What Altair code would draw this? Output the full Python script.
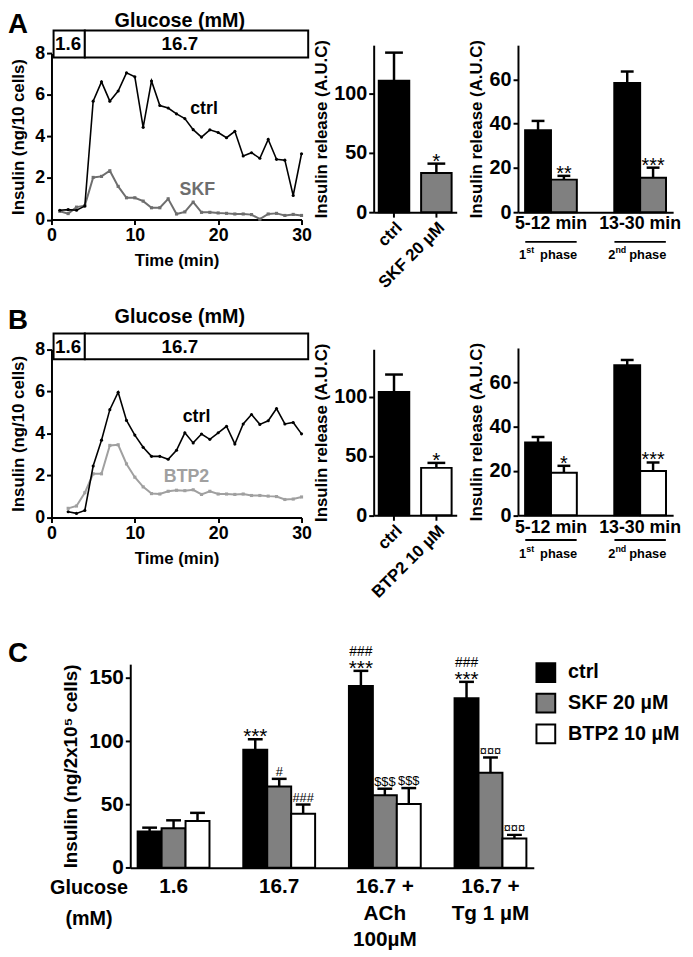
import altair as alt
import pandas as pd

FONT = "Liberation Sans"
W, H = 685, 949

# ---------------- data: time courses ----------------
time_a = list(range(1, 31))
ctrl_a = [0.45, 0.48, 0.45, 0.65, 5.70, 6.63, 5.70, 6.19, 7.06, 6.87,
          4.44, 6.67, 5.49, 5.37, 5.09, 4.86, 4.33, 3.97, 4.32, 4.19,
          3.94, 4.25, 3.06, 3.22, 2.95, 3.86, 2.90, 2.86, 1.16, 3.17]
skf_a = [0.40, 0.29, 0.60, 0.67, 2.03, 2.08, 2.35, 1.60, 1.05, 1.05,
         0.89, 0.57, 0.57, 1.00, 0.27, 0.37, 0.84, 0.35, 0.35, 0.32,
         0.30, 0.27, 0.27, 0.24, 0.02, 0.27, 0.30, 0.20, 0.25, 0.20]
time_b = list(range(2, 31))
ctrl_b = [0.28, 0.20, 0.34, 2.45, 3.68, 5.13, 5.96, 4.62, 3.92, 3.34,
          2.91, 2.91, 2.77, 3.20, 4.03, 3.55, 3.97, 3.72, 4.03, 4.34,
          3.50, 4.45, 4.90, 4.43, 4.60, 5.18, 4.45, 4.52, 3.98]
btp2_b = [0.44, 0.55, 1.18, 2.08, 2.08, 3.43, 3.46, 2.55, 1.92, 1.46,
          1.14, 1.12, 1.25, 1.30, 1.28, 1.32, 1.10, 1.25, 1.12, 1.12,
          1.10, 1.12, 1.05, 1.05, 1.02, 1.00, 0.86, 0.88, 0.98]

glucose_labels = ["1.6", "16.7"]
glucose_start = [0.25, 4.0]
glucose_end = [4.0, 30.8]
glucose_text_t = [2.0, 15.4]

# ---------------- data: AUC bars ----------------
auc_a_cats = ["ctrl", "SKF 20 µM"]
auc_a_vals = [111, 33]
auc_a_tops = [134.7, 41]
auc_a_sig = ["", "*"]

auc_b_cats = ["ctrl", "BTP2 10 µM"]
auc_b_vals = [104, 40]
auc_b_tops = [118.7, 44.2]
auc_b_sig = ["", "*"]

phase_cats = ["5-12 min", "13-30 min"]
phase_a_ctrl = [37.0, 58.3]
phase_a_ctrl_top = [41.2, 63.5]
phase_a_skf = [14.7, 15.6]
phase_a_skf_top = [16.4, 20.1]
phase_a_sig = ["**", "***"]

phase_b_ctrl = [32.8, 67.6]
phase_b_ctrl_top = [35.3, 70.0]
phase_b_btp2 = [19.2, 20.0]
phase_b_btp2_top = [22.3, 23.8]
phase_b_sig = ["*", "***"]

# ---------------- data: panel C ----------------
c_groups = ["1.6", "16.7", "16.7 +|ACh|100µM", "16.7 +|Tg 1 µM"]
c_series = ["ctrl", "SKF 20 µM", "BTP2 10 µM"]
c_ctrl = [28.6, 93.4, 143.8, 134.0]
c_ctrl_top = [31.7, 101.6, 155.7, 147.0]
c_skf = [31.2, 64.3, 57.3, 75.2]
c_skf_top = [37.5, 70.3, 62.5, 87.2]
c_btp2 = [37.0, 42.7, 50.5, 23.1]
c_btp2_top = [43.4, 50.0, 63.0, 26.0]
c_ctrl_star = ["", "***", "***", "***"]
c_ctrl_hash = ["", "", "###", "###"]
c_skf_sig = ["", "#", "$$$", "¤¤¤"]
c_btp2_sig = ["", "###", "$$$", "¤¤¤"]

GREY = "#808080"
SKF_LINE = "#6e6e6e"
BTP_LINE = "#a0a0a0"


def letter_mark(letter, y):
    return alt.Chart(pd.DataFrame({"lab": [letter]})).mark_text(
        align="left", baseline="alphabetic", fontSize=28, fontWeight="bold", font=FONT
    ).encode(x=alt.value(0), y=alt.value(y), text="lab:N")


def line_panel(times, ctrl, other, other_name, other_color, y_zero, y_eight,
               box_lo, box_hi, box_text_v, gluc_v, ctrl_lab, other_lab, letter, letter_y):
    xscale = alt.Scale(domain=[0, 30], range=[44, 297], nice=False, zero=False)
    yscale = alt.Scale(domain=[0, 8], range=[y_zero, y_eight], nice=False)
    xaxis = alt.Axis(orient="bottom", offset=y_zero - H, values=[0, 10, 20, 30],
                     title="Time (min)", labelFontSize=18, titleFontSize=17,
                     titlePadding=8, labelFlush=False, labelAngle=0)
    yaxis = alt.Axis(orient="left", offset=-44, values=[0, 2, 4, 6, 8],
                     title="Insulin (ng/10 cells)", labelFontSize=18, titleFontSize=17,
                     titlePadding=7)

    def X(f):
        return alt.X(f, type="quantitative", scale=xscale, axis=xaxis)

    def Y(f):
        return alt.Y(f, type="quantitative", scale=yscale, axis=yaxis)

    df = pd.DataFrame({"t": times, "ctrl": ctrl, "other": other})
    df_box = pd.DataFrame({"x0": glucose_start, "x1": glucose_end,
                           "y0": [box_lo] * 2, "y1": [box_hi] * 2,
                           "lab": glucose_labels, "lx": glucose_text_t,
                           "ly": [box_text_v] * 2})
    df_title = pd.DataFrame({"t": [15.4], "v": [gluc_v], "lab": ["Glucose (mM)"]})
    df_lab = pd.DataFrame({"t": [ctrl_lab[0], other_lab[0]],
                           "v": [ctrl_lab[1], other_lab[1]],
                           "lab": ["ctrl", other_name],
                           "col": ["black", other_color]})

    box = alt.Chart(df_box).mark_rect(fill="white", stroke="black", strokeWidth=2).encode(
        x=X("x0"), x2="x1", y=Y("y0"), y2="y1")
    box_txt = alt.Chart(df_box).mark_text(fontSize=19, fontWeight="bold", font=FONT).encode(
        x=X("lx"), y=Y("ly"), text="lab:N")
    title = alt.Chart(df_title).mark_text(fontSize=20, fontWeight="bold", font=FONT).encode(
        x=X("t"), y=Y("v"), text="lab:N")
    l1 = alt.Chart(df).mark_line(color="black", strokeWidth=1.6).encode(x=X("t"), y=Y("ctrl"))
    p1 = alt.Chart(df).mark_point(filled=True, size=10, color="black", opacity=1).encode(
        x=X("t"), y=Y("ctrl"))
    l2 = alt.Chart(df).mark_line(color=other_color, strokeWidth=2).encode(x=X("t"), y=Y("other"))
    p2 = alt.Chart(df).mark_point(filled=True, size=10, shape="square", color=other_color,
                                  opacity=1).encode(x=X("t"), y=Y("other"))
    labs = alt.Chart(df_lab).mark_text(fontSize=18, fontWeight="bold", font=FONT).encode(
        x=X("t"), y=Y("v"), text="lab:N", color=alt.Color("col:N", scale=None))
    return alt.layer(l2, p2, l1, p1, box, box_txt, title, labs, letter_mark(letter, letter_y))


def auc_total(cats, vals, tops, sig, colors, y_zero, y_max, y_top):
    df = pd.DataFrame({"cat": cats, "val": vals, "top": tops, "sig": sig, "col": colors})
    xscale = alt.Scale(domain=cats, range=[370, 454], paddingInner=0.28, paddingOuter=0.12)
    yscale = alt.Scale(domain=[0, y_max], range=[y_zero, y_top], nice=False)
    xaxis = alt.Axis(orient="bottom", offset=y_zero - H, title=None, labelAngle=-45,
                     labelFontSize=17)
    yaxis = alt.Axis(orient="left", offset=-370, values=[0, 50, 100],
                     title="Insulin release (A.U.C)", labelFontSize=20, titleFontSize=17,
                     titlePadding=3)
    X = alt.X("cat:N", scale=xscale, axis=xaxis)

    def Y(f):
        return alt.Y(f, type="quantitative", scale=yscale, axis=yaxis)

    bars = alt.Chart(df).mark_bar(stroke="black", strokeWidth=2).encode(
        x=X, y=Y("val"), fill=alt.Fill("col:N", scale=None))
    err = alt.Chart(df).mark_rule(strokeWidth=2.5, color="black").encode(x=X, y=Y("val"), y2="top")
    cap = alt.Chart(df).mark_tick(size=18, thickness=2.5, color="black", opacity=1).encode(
        x=X, y=Y("top"))
    star = alt.Chart(df).mark_text(fontSize=21, dy=4, baseline="alphabetic", font=FONT).encode(
        x=X, y=Y("top"), text="sig:N")
    return alt.layer(err, cap, bars, star)


def auc_phase(ctrl_v, ctrl_t, oth_v, oth_t, oth_col, sig, y_zero, y_top, under_v, phase_v):
    per, ser, val, top, col, sg = [], [], [], [], [], []
    for i, p in enumerate(phase_cats):
        per += [p, p]
        ser += ["ctrl", "drug"]
        val += [ctrl_v[i], oth_v[i]]
        top += [ctrl_t[i], oth_t[i]]
        col += ["black", oth_col]
        sg += ["", sig[i]]
    df = pd.DataFrame({"per": per, "ser": ser, "val": val, "top": top, "col": col, "sig": sg})
    xscale = alt.Scale(domain=phase_cats, range=[516, 673], paddingInner=0.42, paddingOuter=0.08)
    oscale = alt.Scale(domain=["ctrl", "drug"], paddingInner=0, paddingOuter=0)
    yscale = alt.Scale(domain=[0, 75.4], range=[y_zero, y_top], nice=False)
    xaxis = alt.Axis(orient="bottom", offset=y_zero - H, title=None, ticks=False,
                     labelFontSize=18, labelPadding=3, labelAngle=0, labelBaseline="top")
    yaxis = alt.Axis(orient="left", offset=-516, values=[0, 20, 40, 60],
                     title="Insulin release (A.U.C)", labelFontSize=20, titleFontSize=17,
                     titlePadding=4)
    X = alt.X("per:N", scale=xscale, axis=xaxis)
    XO = alt.XOffset("ser:N", scale=oscale)

    def Y(f):
        return alt.Y(f, type="quantitative", scale=yscale, axis=yaxis)

    bars = alt.Chart(df).mark_bar(stroke="black", strokeWidth=2).encode(
        x=X, xOffset=XO, y=Y("val"), fill=alt.Fill("col:N", scale=None))
    err = alt.Chart(df).mark_rule(strokeWidth=2.5, color="black").encode(
        x=X, xOffset=XO, y=Y("val"), y2="top")
    cap = alt.Chart(df).mark_tick(size=13, thickness=2.5, color="black", opacity=1).encode(
        x=X, xOffset=XO, y=Y("top"))
    star = alt.Chart(df).mark_text(fontSize=20, dy=4, baseline="alphabetic", font=FONT).encode(
        x=X, xOffset=XO, y=Y("top"), text="sig:N")

    df_ph = pd.DataFrame({"per": phase_cats, "num": ["1", "2"], "sup": ["st", "nd"],
                          "word": ["phase", "phase"], "uy": [under_v] * 2, "py": [phase_v] * 2})
    under = alt.Chart(df_ph).mark_tick(size=52, thickness=2, color="black", opacity=1).encode(
        x=X, y=Y("uy"))
    num = alt.Chart(df_ph).mark_text(align="right", dx=-25, fontSize=13, fontWeight="bold",
                                     font=FONT).encode(x=X, y=Y("py"), text="num:N")
    sup = alt.Chart(df_ph).mark_text(align="left", dx=-25, dy=-5, fontSize=9, fontWeight="bold",
                                     font=FONT).encode(x=X, y=Y("py"), text="sup:N")
    word = alt.Chart(df_ph).mark_text(align="left", dx=-11, fontSize=13, fontWeight="bold",
                                      font=FONT).encode(x=X, y=Y("py"), text="word:N")
    return alt.layer(err, cap, bars, star, under, num, sup, word)


def panel_c():
    grp, ser, val, top = [], [], [], []
    for i, g in enumerate(c_groups):
        grp += [g, g, g]
        ser += c_series
        val += [c_ctrl[i], c_skf[i], c_btp2[i]]
        top += [c_ctrl_top[i], c_skf_top[i], c_btp2_top[i]]
    df = pd.DataFrame({"grp": grp, "ser": ser, "val": val, "top": top})
    df_star = pd.DataFrame({"grp": c_groups, "ser": ["ctrl"] * 4, "top": c_ctrl_top,
                            "s": c_ctrl_star})
    df_hash = pd.DataFrame({"grp": c_groups, "ser": ["ctrl"] * 4, "top": c_ctrl_top,
                            "s": c_ctrl_hash})
    df_sym = pd.DataFrame({"grp": c_groups * 2, "ser": ["SKF 20 µM"] * 4 + ["BTP2 10 µM"] * 4,
                           "top": c_skf_top + c_btp2_top, "s": c_skf_sig + c_btp2_sig})

    y_zero, y_top = 864.3, 658.3
    xscale = alt.Scale(domain=c_groups, range=[123.7, 532], paddingInner=0.32, paddingOuter=0.07)
    oscale = alt.Scale(domain=c_series, paddingInner=0, paddingOuter=0)
    yscale = alt.Scale(domain=[0, 161], range=[y_zero, y_top], nice=False)
    xaxis = alt.Axis(orient="bottom", offset=y_zero - H, title=None, ticks=False,
                     labelFontSize=21, labelPadding=8, labelExpr="split(datum.label, '|')",
                     labelLineHeight=27, labelBaseline="top", labelAngle=0)
    yaxis = alt.Axis(orient="left", offset=-123.7, values=[0, 50, 100, 150],
                     title="Insulin (ng/2x10⁵ cells)", labelFontSize=21, titleFontSize=19,
                     titlePadding=8)
    X = alt.X("grp:N", scale=xscale, axis=xaxis)
    XO = alt.XOffset("ser:N", scale=oscale)

    def Y(f):
        return alt.Y(f, type="quantitative", scale=yscale, axis=yaxis)

    fill = alt.Fill("ser:N", scale=alt.Scale(domain=c_series, range=["black", GREY, "white"]),
                    legend=alt.Legend(title=None, orient="none", legendX=533.7, legendY=656.3,
                                      symbolType="square", symbolSize=361,
                                      symbolStrokeColor="black", symbolStrokeWidth=2,
                                      labelFontSize=20, labelFontWeight="bold", labelFont=FONT,
                                      labelColor="black", labelOffset=12, rowPadding=4,
                                      padding=0))
    bars = alt.Chart(df).mark_bar(stroke="black", strokeWidth=2).encode(
        x=X, xOffset=XO, y=Y("val"), fill=fill)
    err = alt.Chart(df).mark_rule(strokeWidth=2.5, color="black").encode(
        x=X, xOffset=XO, y=Y("val"), y2="top")
    cap = alt.Chart(df).mark_tick(size=15, thickness=2.5, color="black", opacity=1).encode(
        x=X, xOffset=XO, y=Y("top"))
    star = alt.Chart(df_star).mark_text(fontSize=21, dy=4, baseline="alphabetic", font=FONT).encode(
        x=X, xOffset=XO, y=Y("top"), text="s:N")
    hsh = alt.Chart(df_hash).mark_text(fontSize=14, dy=-15, baseline="alphabetic", font=FONT).encode(
        x=X, xOffset=XO, y=Y("top"), text="s:N")
    sym = alt.Chart(df_sym).mark_text(fontSize=13, dy=-3, baseline="alphabetic", font=FONT).encode(
        x=X, xOffset=XO, y=Y("top"), text="s:N")
    gl = alt.Chart(pd.DataFrame({"lab": ["Glucose|(mM)"]})).mark_text(
        lineBreak="|", lineHeight=31, baseline="top", fontSize=20, fontWeight="bold", font=FONT
    ).encode(x=alt.value(82), y=alt.value(875), text="lab:N")
    return alt.layer(err, cap, bars, star, hsh, sym, gl, letter_mark("C", 656))


lineA = line_panel(time_a, ctrl_a, skf_a, "SKF", SKF_LINE, 208.5, 40.3,
                   7.8, 9.1, 8.47, 9.55, (18.3, 5.3), (17.5, 1.4), "A", 20)
aucA = auc_total(auc_a_cats, auc_a_vals, auc_a_tops, auc_a_sig, ["black", GREY], 201, 141, 32)
phaseA = auc_phase(phase_a_ctrl, phase_a_ctrl_top, phase_a_skf, phase_a_skf_top, GREY,
                   phase_a_sig, 201, 32, -13.4, -19.2)

lineB = line_panel(time_b, ctrl_b, btp2_b, "BTP2", BTP_LINE, 510, 339.7,
                   7.53, 8.75, 8.12, 9.53, (17.4, 4.76), (16.2, 1.95), "B", 319)
aucB = auc_total(auc_b_cats, auc_b_vals, auc_b_tops, auc_b_sig, ["black", "white"], 507.7, 140, 339.7)
phaseB = auc_phase(phase_b_ctrl, phase_b_ctrl_top, phase_b_btp2, phase_b_btp2_top, "white",
                   phase_b_sig, 507.7, 338.4, -11.1, -17.5)

chart = alt.layer(lineA, aucA, phaseA, lineB, aucB, phaseB, panel_c()).resolve_scale(
    x="independent", y="independent", fill="independent", color="independent",
    xOffset="independent"
).resolve_axis(x="independent", y="independent").properties(
    width=W, height=H, autosize=alt.AutoSizeParams(type="none"), padding=0
).configure_view(stroke=None).configure_axis(
    labelFont=FONT, titleFont=FONT, labelFontWeight="bold", titleFontWeight="bold",
    labelColor="black", titleColor="black", domainColor="black", domainWidth=2,
    tickColor="black", tickWidth=2, tickSize=5, grid=False, labelPadding=2
).configure_text(font=FONT)

chart.save("out.html", embed_options={"renderer": "svg", "actions": False})
